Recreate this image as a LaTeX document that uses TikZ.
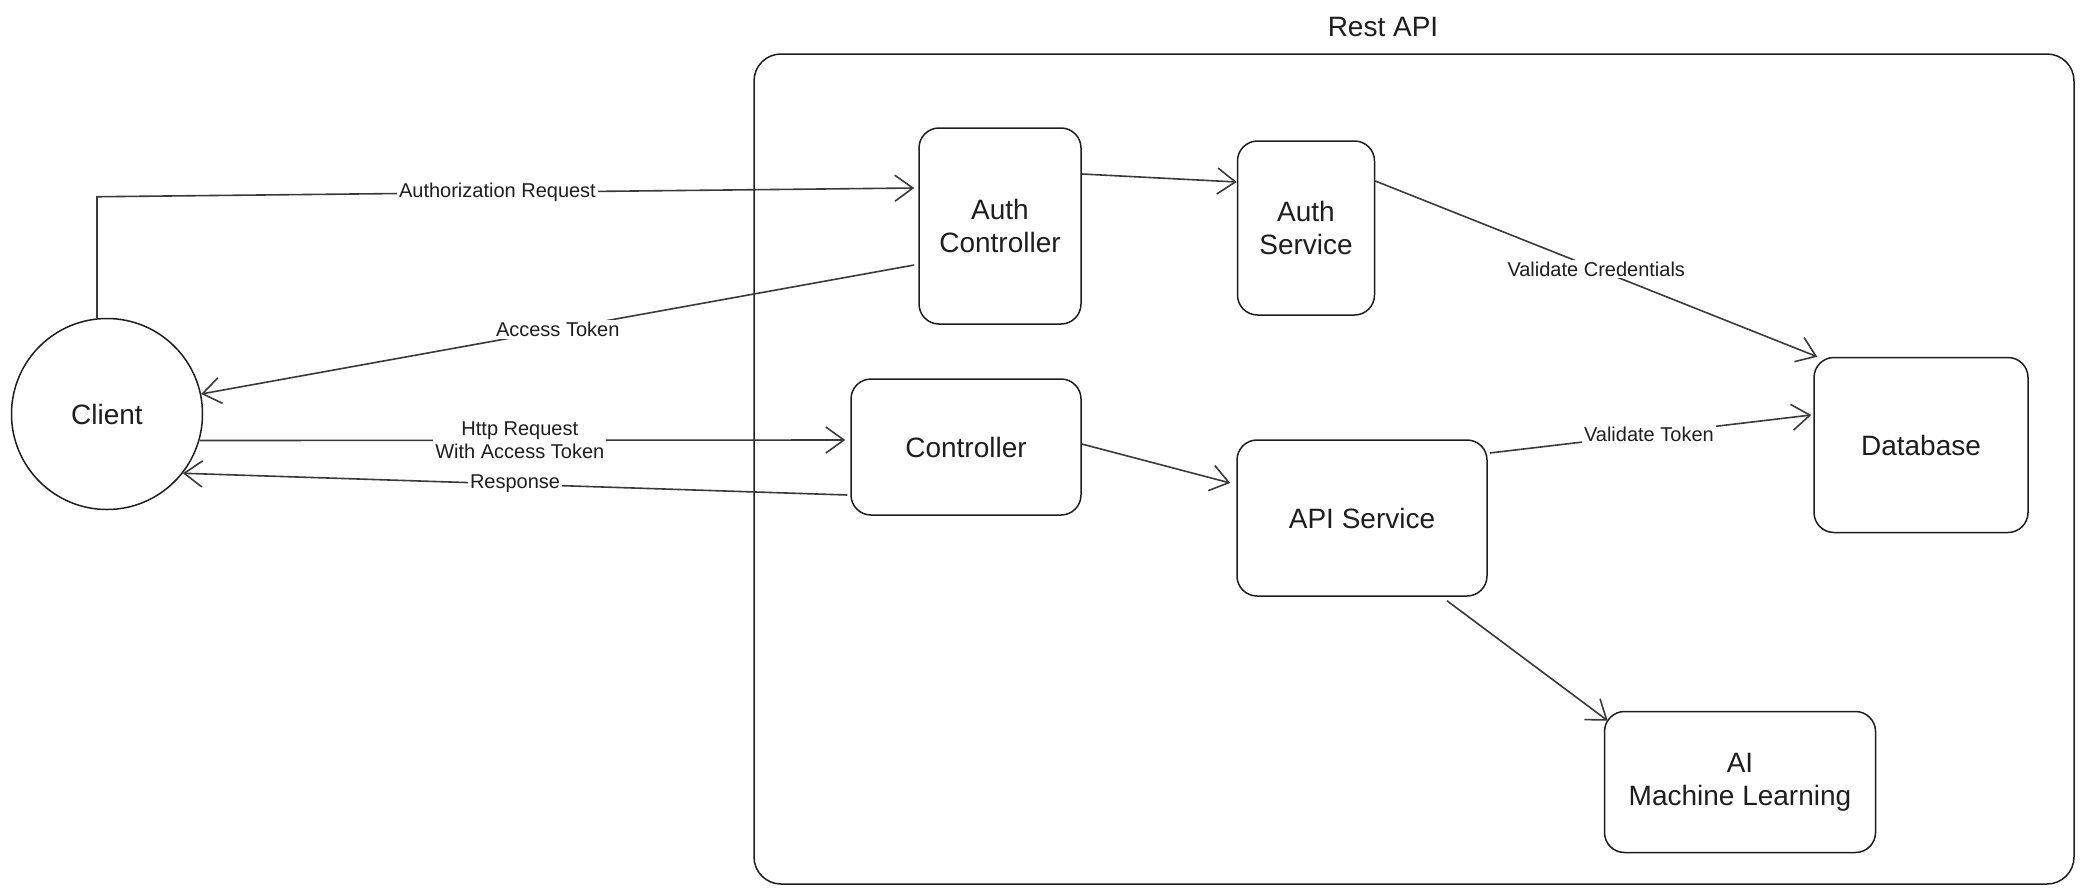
\documentclass[tikz,border=0pt]{standalone}
\usepackage{fontspec}
\setmainfont{Liberation Sans}
\usetikzlibrary{arrows.meta,shapes.geometric}
\definecolor{ink}{HTML}{1E1E1E}
\definecolor{wire}{HTML}{3A3A3A}
\tikzset{
  box/.style={draw=ink, line width=1.5pt, rounded corners=20pt, align=center,
    text=ink, font=\fontsize{28}{33}\selectfont, inner sep=0pt},
  arr/.style={draw=wire, line width=1.6pt,
    -{Straight Barb[length=18pt,width=26pt,line width=1.6pt]}},
  lbl/.style={fill=white, text=ink, inner sep=2pt, align=center,
    font=\fontsize{20}{23}\selectfont},
}
\begin{document}
\begin{tikzpicture}[x=1pt,y=-1pt]
\useasboundingbox[fill=white] (0,0) rectangle (2085,894);
% frame
\draw[draw=ink, line width=1.5pt, rounded corners=27pt] (754,54) rectangle (2074,884);
\node[text=ink, font=\fontsize{28}{33}\selectfont] (title) at (1383,27) {Rest API};
% nodes
\node[draw=ink, line width=1.5pt, circle, minimum size=191pt, inner sep=0pt,
      text=ink, font=\fontsize{28}{33}\selectfont] (cl) at (107,414) {Client};
\node[box, minimum width=162pt, minimum height=196pt] (ac) at (1000,226) {Auth\\Controller};
\node[box, minimum width=137pt, minimum height=174pt] (as) at (1306,228) {Auth\\Service};
\node[box, minimum width=230pt, minimum height=136pt] (ctl) at (966,447) {Controller};
\node[box, minimum width=250pt, minimum height=156pt] (api) at (1362,518) {API Service};
\node[box, minimum width=214pt, minimum height=175pt] (db) at (1921,445) {Database};
\node[box, minimum width=271pt, minimum height=141pt] (ai) at (1740,782) {AI\\Machine Learning};
% connectors
\draw[arr] ([xshift=-10pt]cl.north) -- ++(0,-121) coordinate (corner)
  -- node[lbl, pos=0.49] {Authorization Request} ([xshift=-4pt,yshift=38pt]ac.west);
\draw[arr] ([xshift=-4pt,yshift=-39pt]ac.west) -- node[lbl, pos=0.5] {Access Token} (cl.12);
\draw[arr] (cl.-16) -- node[lbl, pos=0.496] {Http Request\\With Access Token} ([xshift=-5pt,yshift=7pt]ctl.west);
\draw[arr] ([xshift=-3pt,yshift=-48pt]ctl.west) -- node[lbl, pos=0.5] {Response} (cl.-38);
\draw[arr] ([yshift=52pt]ac.east) -- ([yshift=46pt]as.west);
\draw[arr] ([yshift=47pt]as.east) -- node[lbl, pos=0.5] {Validate Credentials} ([xshift=4pt]db.north west);
\draw[arr] ([yshift=3pt]ctl.east) -- ([xshift=-6pt,yshift=35pt]api.west);
\draw[arr] ([xshift=2pt,yshift=65pt]api.east) -- node[lbl, pos=0.495] {Validate Token} ([xshift=-2pt,yshift=30pt]db.west);
\draw[arr] ([xshift=85pt,yshift=-4pt]api.south) -- ([xshift=4pt,yshift=-10pt]ai.north west);
\end{tikzpicture}
\end{document}
